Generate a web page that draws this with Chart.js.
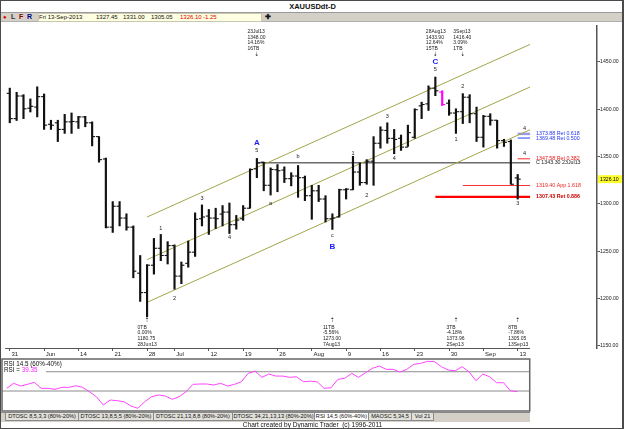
<!DOCTYPE html>
<html>
<head>
<meta charset="utf-8">
<title>XAUUSDdt-D</title>
<script src="https://cdn.jsdelivr.net/npm/chart.js@4.4.1/dist/chart.umd.min.js"></script>
<style>
body{margin:0;background:#fff}
#wrap{position:relative;width:625px;height:429px;background:#fff;overflow:hidden;font-family:"Liberation Sans",Arial,sans-serif;color:#111}
#edge{position:absolute;left:0;top:0;width:621px;height:427px;border:1px solid #4a4a4a;border-right-width:2px;pointer-events:none;z-index:5}
#title{position:absolute;left:0;top:1px;width:625px;height:11px;line-height:12px;text-align:center;font-weight:bold;font-size:7.5px}
#tool{position:absolute;left:1px;top:12px;width:622px;height:8px;background:#d4d0c8;border-top:1px solid #9a9a9a;border-bottom:1px solid #b0b0b0}
#tool span{position:absolute;top:0;line-height:8px;font-size:6px;white-space:nowrap}
#quote{position:absolute;left:37px;top:0;width:222px;height:7px;background:#ffffe1;border:1px solid #c8c8b0}
canvas{position:absolute;left:0}
#tabs{position:absolute;left:1px;top:412px;width:529px;height:9px;background:#d4d0c8;border-top:1px solid #888}
.tab{position:absolute;top:0;height:7px;line-height:7px;font-size:5.6px;border:1px solid #8a8a8a;border-top:none;background:#e2e0da;text-align:center;white-space:nowrap;overflow:hidden}
.tab.on{background:#fff}
#foot{position:absolute;left:0;top:421px;width:625px;text-align:center;font-size:6.5px;line-height:7px}
</style>
</head>
<body>
<div id="wrap">
  <div id="edge"></div>
  <div id="title">XAUUSDdt-D</div>
  <div id="tool">
    <span style="left:2px;color:#e00000;font-size:6px">●</span>
    <span style="left:10px;font-weight:bold;color:#333;font-size:7px">L</span>
    <span style="left:18px;font-weight:bold;color:#8b0000;font-size:7px">F</span>
    <span style="left:26px;font-weight:bold;color:#000080;font-size:7px">R</span>
    <div id="quote"></div>
    <span style="left:38px">Fri 13-Sep-2013</span>
    <span style="left:95px">1327.45</span>
    <span style="left:122px">1331.00</span>
    <span style="left:150px">1305.05</span>
    <span style="left:179px;color:#e00000">1326.10</span>
    <span style="left:202px;color:#e00000">-1.25</span>
    <span style="left:264px;font-weight:bold;font-size:7px">✚</span>
  </div>
  <canvas id="main" width="625" height="339" style="top:21px"></canvas>
  <canvas id="rsi" width="625" height="54" style="top:358px"></canvas>
  <div id="tabs">
    <div class="tab" style="left:4px;width:72px">DTOSC 8,5,3,3 (80%-20%)</div>
    <div class="tab" style="left:77px;width:74px">DTOSC 13,8,5,5 (80%-20%)</div>
    <div class="tab" style="left:152px;width:78px">DTOSC 21,13,8,8 (80%-20%)</div>
    <div class="tab" style="left:231px;width:81px">DTOSC 34,21,13,13 (80%-20%)</div>
    <div class="tab on" style="left:313px;width:53px">RSI 14,5 (60%-40%)</div>
    <div class="tab" style="left:367px;width:42px">MAOSC 5,34,5</div>
    <div class="tab" style="left:410px;width:21px">Vol 21</div>
  </div>
  <div id="foot">Chart created by Dynamic Trader&nbsp; (c) 1996-2011</div>
</div>
<script>
// daily XAUUSD bars, 31 May 2013 .. 13 Sep 2013 (4 Jul missing), index = bar number
const tickIdx = [0,5,10,15,20,24,29,34,39,44,49,54,59,64,69,74];
const tickLabels = ['31','Jun','14','21','28','Jul','12','19','26','Aug','9','16','23','30','Sep','13'];
const yTicks = [1150,1200,1250,1300,1350,1400,1450];

const opens = [1416.7,1390,1413.9,1401,1402.2,1413.2,1384,1385.6,1378.6,1386.6,
  1386.6,1391.8,1385.6,1371,1347.4,1275.4,1297.5,1285,1275.4,1226.8,
  1206.3,1235.2,1253.1,1245.5,1255.9,1223.7,1237.2,1249,1284.3,1287.1,
  1285,1289.2,1291.3,1278,1284.3,1295.4,1337,1344,1319.6,1336,
  1335.7,1326.6,1329.4,1327.6,1308.6,1313.8,1305.1,1284.3,1286.1,1314.9,
  1314.9,1333.6,1322.5,1345,1364,1377.5,1369.2,1369.2,1359.9,1370.3,
  1403.5,1405.6,1422.2,1418,1406.3,1395.9,1397.3,1412.6,1395.2,1370.3,
  1392.4,1388.3,1366.8,1365.8,1327.45];
const highs = [1422.2,1417.8,1415.3,1410.8,1423.6,1416,1388.3,1388.3,1394.5,1396,
  1392.4,1392.4,1386.6,1371,1348.4,1302.4,1302.4,1289.5,1276.7,1245.5,
  1235.9,1263.5,1267.7,1260.1,1256.7,1238.6,1260.8,1290.5,1298.9,1294.1,
  1295.4,1298.2,1300.9,1287.8,1298.2,1337,1348,1344,1338,1341.5,
  1339.1,1332.9,1340.5,1329.4,1319.6,1319.6,1308.6,1289.5,1315.5,1316.2,
  1350.2,1343.2,1346.7,1371,1381.4,1385.6,1378.6,1372.7,1383.1,1400.4,
  1407.4,1424.6,1433.9,1419.4,1409.8,1400.4,1416.4,1415.3,1402.2,1393.5,
  1395.2,1388.3,1368.2,1367.5,1331];
const lows = [1385.6,1388,1390,1397,1391.8,1378.6,1378.6,1365.8,1374.4,1374.4,
  1379.6,1381.4,1361.2,1344,1274.6,1269.8,1276.7,1272.2,1221.9,1197,
  1180.75,1225.8,1240,1236.5,1209.9,1215.7,1233.1,1244.5,1276.7,1267.7,
  1273.9,1276.7,1268.7,1273.3,1282.6,1295.4,1327.6,1313.8,1309.3,1312.8,
  1322.5,1319,1306.9,1303.4,1283.7,1302.4,1280.9,1273,1286.1,1305.1,
  1314.9,1319.6,1320.7,1319.6,1358.8,1364,1352.9,1356.4,1360.6,1369.2,
  1390,1398.6,1414.2,1403.8,1393.5,1374.4,1384.8,1385.6,1365.8,1359.9,
  1383.1,1358.8,1360.6,1320.7,1305.05];
const closes = [1390,1413.9,1400.4,1403,1413.2,1383.1,1383,1378.6,1386.6,1387,
  1391.8,1385.6,1371,1346.7,1275.4,1297.5,1285,1275.4,1228.9,1206.3,
  1235.2,1253.1,1245.5,1255.9,1223.7,1235.2,1249,1283.7,1286.1,1285,
  1284.3,1291.3,1278,1282.9,1295.4,1336.3,1343.3,1319.6,1336.3,1335,
  1326.6,1329.4,1327.6,1308.6,1313.8,1305.1,1284.3,1285,1314.9,1315.5,
  1333.6,1322.5,1345,1364,1377.9,1369.2,1368,1359.9,1375.2,1399.4,
  1404.9,1422.2,1419.4,1404.9,1395.9,1397.3,1412.6,1395.2,1370.3,1392.4,
  1388.3,1366.8,1365,1320.7,1326.1];
const rsi = [42.8,48,45.2,46.9,49,42.8,42.8,41.8,43.8,43.8,
  45.5,43.8,39.3,34.1,25.5,30.7,30,28.9,24.5,22.1,
  28.9,34.1,35.9,34.8,31.4,34.1,39.3,46.9,47.3,47.3,
  46.2,48,45.2,46.9,49.6,58.3,60.7,54.2,57.6,55.5,
  55.5,54.2,54.8,49.6,50.2,49.6,42.8,43.4,52.1,53.2,
  58.3,54.2,59,63.5,65.9,62.5,62.5,59.7,62.5,67.7,
  68.7,70.8,70.4,65.2,61.8,61,65.2,60,50.7,57.6,
  54.8,48.6,48.6,40.3,39.35];
const highlightBar = 63;

// trend channel (start/end bar, price at each end)
const channelIdx = [20, 75.8];
const upperChannel = [1286.1, 1468.4];
const midChannel = [1241.1, 1423.4];
const lowerChannel = [1196, 1378.3];

// retracement / projection levels
const levelPrice = [1373.88, 1369.48, 1347.58, 1343.30, 1319.40, 1307.43];
const levelFrom = [74, 74, 74, 36, 66, 62];
const levelTo = 75.8;
const levelText = ['1373.88 Ret 0.618','1369.48 Ret 0.500','1347.58 Ret 0.382','C 1343.30 23Jul13','1319.40 App 1.618','1307.43 Ret 0.886'];
const lastClose = 1326.10;

// wave counts
const waveIdx = [22,24,28,32,36,36,38,42,47,47,50,52,55,56,62,62,65,66,74,75,75];
const wavePrice = [1273.9,1200.1,1305.8,1264.2,1356,1364,1300.9,1349.5,1266.3,1254.9,1352.9,1309.3,1392.4,1347.4,1442,1450,1367.5,1423.6,1300.9,1379.6,1352.9];
const waveText = ['1','2','3','4','5','A','a','b','c','B','1','2','3','4','5','C','1','2','3','4','4'];

// time/price notes
const topNoteIdx = [36, 62, 66];
const topNoteText = [['23Jul13','1348.00','14.16%','16TB'],['28Aug13','1433.90','12.64%','15TB'],['3Sep13','1416.40','3.09%','1TB']];
const botNoteIdx = [20, 47, 65, 74];
const botNoteText = [['0TB','0.00%','1180.75','28Jun13'],['11TB','-5.56%','1273.00','7Aug13'],['3TB','-4.18%','1373.96','2Sep13'],['8TB','-7.86%','1305.05','13Sep13']];

const F = '"Liberation Sans","DejaVu Sans",sans-serif';
const X_MIN = -0.68, X_MAX = 85.55;
const barInk = '#111111', pink = '#ff00ff';
const levelColor = ['#9a9ae6','#2040ff','#ff2a2a','#222222','#ff3030','#ff0000'];
const levelWidth = [2.5,1,1,1,1,2.2];
const levelTextColor = ['#2233ee','#2233ee','#ee1111','#222222','#ee2222','#cc0000'];

function noPad(axis){ axis.paddingLeft = axis.paddingRight = axis.paddingTop = axis.paddingBottom = 0; }

const mainText = {
  id: 'mainText',
  afterDatasetsDraw(chart){
    const {ctx, chartArea: a, scales: {x, y}} = chart;
    const xEnd = x.getPixelForValue(levelTo);
    ctx.save();
    ctx.strokeStyle = '#555'; ctx.lineWidth = 1.2;
    ctx.beginPath(); ctx.moveTo(a.left, a.bottom + 0.5); ctx.lineTo(xEnd, a.bottom + 0.5); ctx.stroke();
    ctx.textBaseline = 'middle';
    waveText.forEach((t, k) => {
      const big = /[ABC]/.test(t);
      ctx.font = big ? 'bold 8px ' + F : '5.5px ' + F;
      ctx.fillStyle = big ? '#1a1aff' : '#222';
      ctx.textAlign = 'center';
      ctx.fillText(t, x.getPixelForValue(waveIdx[k]), y.getPixelForValue(wavePrice[k]));
    });
    ctx.textAlign = 'left';
    levelText.forEach((t, k) => {
      ctx.font = (k === 5 ? 'bold ' : '') + '5.3px ' + F;
      ctx.fillStyle = levelTextColor[k];
      ctx.fillText(t, xEnd + 6, y.getPixelForValue(levelPrice[k]));
    });
    ctx.fillStyle = '#222';
    topNoteIdx.forEach((i, k) => {
      const px = x.getPixelForValue(i);
      ctx.font = '5px ' + F; ctx.textAlign = 'left';
      topNoteText[k].forEach((t, j) => ctx.fillText(t, px - 9.5, a.top + 5.5 + j * 5.6));
      ctx.font = '6px ' + F; ctx.textAlign = 'center';
      ctx.fillText('⇣', px, a.top + 28);
    });
    botNoteIdx.forEach((i, k) => {
      const px = x.getPixelForValue(i);
      ctx.font = '6px ' + F; ctx.textAlign = 'center';
      ctx.fillText('⇡', px, a.bottom - 27.5);
      ctx.font = '5px ' + F; ctx.textAlign = 'left';
      botNoteText[k].forEach((t, j) => ctx.fillText(t, px - 9.5, a.bottom - 20.7 + j * 5.8));
    });
    const yp = y.getPixelForValue(lastClose);
    ctx.fillStyle = '#ffff30'; ctx.fillRect(a.right + 1, yp - 4, 24, 8);
    ctx.fillStyle = '#000'; ctx.font = '5.2px ' + F; ctx.textAlign = 'left';
    ctx.fillText(lastClose.toFixed(2), a.right + 3, yp);
    ctx.restore();
  }
};

function seg(xs, ys, color, width){
  return { type: 'line', data: [{x: xs[0], y: ys[0]}, {x: xs[1], y: ys[1]}], borderColor: color, borderWidth: width, pointRadius: 0, fill: false };
}

const datasets = [
  { type: 'bar', data: highs.map((h, i) => ({x: i, y: [lows[i], h]})),
    backgroundColor: highs.map((_, i) => i === highlightBar ? pink : barInk), barThickness: 1.5, grouped: false },
  { type: 'line', showLine: false, data: opens.map((o, i) => ({x: i - 0.22, y: o})),
    pointStyle: 'line', pointRadius: 1.5, pointBorderWidth: 1.1,
    pointBorderColor: opens.map((_, i) => i === highlightBar ? pink : barInk) },
  { type: 'line', showLine: false, data: closes.map((c, i) => ({x: i + 0.22, y: c})),
    pointStyle: 'line', pointRadius: 1.5, pointBorderWidth: 1.1,
    pointBorderColor: closes.map((_, i) => i === highlightBar ? pink : barInk) },
  seg(channelIdx, upperChannel, '#a4a44a', 1),
  seg(channelIdx, midChannel, '#a4a44a', 1),
  seg(channelIdx, lowerChannel, '#a4a44a', 1)
];
levelPrice.forEach((p, k) => datasets.push(seg([levelFrom[k], levelTo], [p, p], levelColor[k], levelWidth[k])));

new Chart(document.getElementById('main'), {
  type: 'line',
  data: { datasets },
  options: {
    responsive: false, animation: false, devicePixelRatio: 1, events: [],
    layout: { padding: { left: 2, top: 0, right: 0, bottom: 0 } },
    plugins: { legend: { display: false }, tooltip: { enabled: false } },
    scales: {
      x: {
        type: 'linear', min: X_MIN, max: X_MAX, offset: false,
        afterBuildTicks: axis => { axis.ticks = tickIdx.map(v => ({value: v})); },
        afterFit: axis => { axis.height = 12; noPad(axis); },
        ticks: { autoSkip: false, maxRotation: 0, align: 'start', padding: 0, color: '#222',
          font: { family: F, size: 6 },
          callback: v => ' ' + (tickLabels[tickIdx.indexOf(v)] ?? '') },
        grid: { drawOnChartArea: false, offset: false, tickLength: 3, color: '#555' },
        border: { display: false }
      },
      y: {
        type: 'linear', position: 'right', min: 1147.8, max: 1487.7,
        afterBuildTicks: axis => { axis.ticks = yTicks.map(v => ({value: v})); },
        afterFit: axis => { axis.width = 28; noPad(axis); },
        ticks: { padding: 0, color: '#222', font: { family: F, size: 5.2 }, callback: v => v.toFixed(2) },
        grid: { drawOnChartArea: false, tickLength: 3, color: '#555' },
        border: { display: true, color: '#555', width: 1.5 }
      }
    }
  },
  plugins: [mainText]
});

// RSI panel
const rsiText = {
  id: 'rsiText',
  afterDatasetsDraw(chart){
    const {ctx, chartArea: a, scales: {x}} = chart;
    const xEnd = x.getPixelForValue(levelTo);
    ctx.save();
    ctx.strokeStyle = '#666'; ctx.lineWidth = 1.5;
    ctx.strokeRect(a.left, a.top, xEnd - a.left, a.bottom - a.top);
    ctx.textBaseline = 'middle'; ctx.textAlign = 'left';
    ctx.font = '6.3px ' + F; ctx.fillStyle = '#111';
    ctx.fillText('RSI 14.5 (60%-40%)', 4, a.top + 5.5);
    ctx.fillText('RSI =', 4, a.top + 11.5);
    ctx.fillStyle = '#ff22ff';
    ctx.fillText('39.35', 4 + ctx.measureText('RSI = ').width, a.top + 11.5);
    ctx.restore();
  }
};

new Chart(document.getElementById('rsi'), {
  type: 'line',
  data: { datasets: [
    { data: rsi.map((v, i) => ({x: i, y: v})), borderColor: '#ff44ff', borderWidth: 1, pointRadius: 0, tension: 0 },
    seg([5.7, levelTo], [60, 60], '#8c8c8c', 1),
    seg([X_MIN, levelTo], [40, 40], '#8c8c8c', 1)
  ] },
  options: {
    responsive: false, animation: false, devicePixelRatio: 1, events: [],
    layout: { padding: { left: 2, top: 1, right: 28, bottom: 1 } },
    plugins: { legend: { display: false }, tooltip: { enabled: false } },
    scales: {
      x: { type: 'linear', display: false, min: X_MIN, max: X_MAX, offset: false },
      y: { type: 'linear', display: false, min: 19.3, max: 73.2 }
    }
  },
  plugins: [rsiText]
});
</script>
</body>
</html>
